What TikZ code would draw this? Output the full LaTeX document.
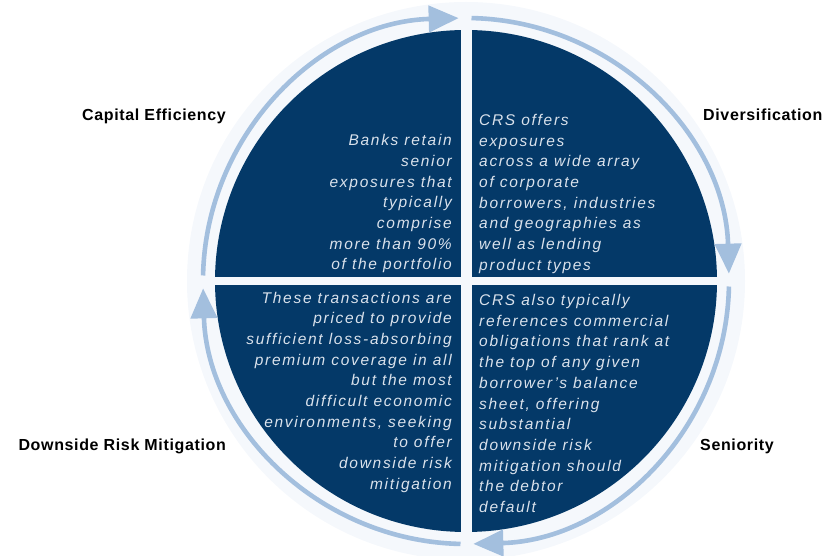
\documentclass[tikz,border=0pt]{standalone}
\usepackage{fontspec}
\setmainfont{Liberation Sans}
\newfontfamily\quadfont[LetterSpace=11]{Liberation Sans}
\newfontfamily\labelfont[LetterSpace=4]{Liberation Sans}
\usetikzlibrary{arrows.meta}
\definecolor{navy}{RGB}{4,57,104}
\definecolor{paleband}{RGB}{245,248,252}
\definecolor{ringblue}{RGB}{163,191,222}
\definecolor{quadtext}{RGB}{218,226,236}
\begin{document}
\begin{tikzpicture}[x=1pt,y=1pt,
  ringarrow/.style={draw=ringblue, line width=4.6pt,
    -{Triangle[length=30pt,width=26pt]}},
  quadcopy/.style={inner sep=0pt, text=quadtext,
    font={\quadfont\itshape\fontsize{15.5}{20.7}\selectfont}},
  sidelabel/.style={inner sep=0pt, text=black,
    font={\labelfont\bfseries\fontsize{16}{19}\selectfont}}]
\useasboundingbox (0,0) rectangle (825,555);
\coordinate (c) at (466,274);

% pale band behind the ring
\fill[paleband] (c) circle[radius=279pt];

% navy disk split into four quadrants by a pale cross
\fill[navy] (c) circle[radius=251pt];
\fill[paleband] ([shift={(-5.5pt,-255pt)}]c) rectangle ([shift={(5.5pt,255pt)}]c);
\fill[paleband] ([shift={(-255pt,-4pt)}]c) rectangle ([shift={(255pt,4pt)}]c);

% clockwise ring of four arrows
\draw[ringarrow] ([shift={(178.8:263pt)}]c) arc[start angle=178.8, end angle=91.6, radius=263pt];
\draw[ringarrow] ([shift={(88.8:263pt)}]c) arc[start angle=88.8, end angle=1.6, radius=263pt];
\draw[ringarrow] ([shift={(-1.2:263pt)}]c) arc[start angle=-1.2, end angle=-88.4, radius=263pt];
\draw[ringarrow] ([shift={(-91.2:263pt)}]c) arc[start angle=-91.2, end angle=-178.4, radius=263pt];

% quadrant texts (anchored at the baseline of their last line)
\node[quadcopy, anchor=base east, align=right] (capText) at (452,285)
  {Banks retain\\senior\\exposures that\\typically\\comprise\\more than 90\%\\of the portfolio};
\node[quadcopy, anchor=base west, align=left] (divText) at (479,284.6)
  {CRS offers\\exposures\\across a wide array\\of corporate\\borrowers, industries\\and geographies as\\well as lending\\product types};
\node[quadcopy, anchor=base east, align=right] (riskText) at (452,65.7)
  {These transactions are\\priced to provide\\sufficient loss-absorbing\\premium coverage in all\\but the most\\difficult economic\\environments, seeking\\to offer\\downside risk\\mitigation};
\node[quadcopy, anchor=base west, align=left] (senText) at (479,42.5)
  {CRS also typically\\references commercial\\obligations that rank at\\the top of any given\\borrower’s balance\\sheet, offering\\substantial\\downside risk\\mitigation should\\the debtor\\default};

% side labels
\node[sidelabel, anchor=base east] (capLabel) at (226,434) {Capital Efficiency};
\node[sidelabel, anchor=base west] (divLabel) at (703,434) {Diversification};
\node[sidelabel, anchor=base east] (riskLabel) at (226,105) {Downside Risk Mitigation};
\node[sidelabel, anchor=base west] (senLabel) at (700,105) {Seniority};
\end{tikzpicture}
\end{document}
